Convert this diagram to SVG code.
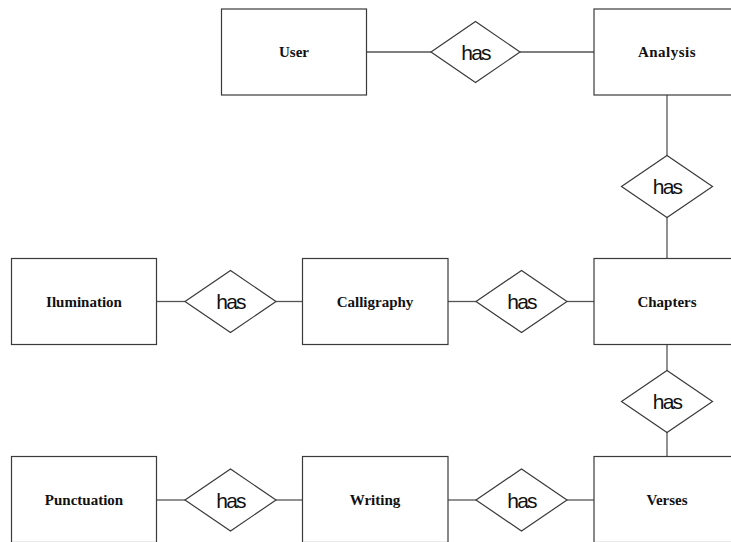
<svg xmlns="http://www.w3.org/2000/svg" width="731" height="542" viewBox="0 0 731 542">
<style>
.ent rect{fill:#fff;stroke:#3a3a3a;stroke-width:1.2}
.rel polygon{fill:#fff;stroke:#3a3a3a;stroke-width:1.2}
.lbl{font-family:"Liberation Serif",serif;font-weight:bold;font-size:15px;fill:#111;text-anchor:middle}
.has{font-family:"Liberation Sans",Arial,sans-serif;font-size:21px;fill:#111;text-anchor:middle;letter-spacing:-1.8px}
#connectors line{stroke:#555;stroke-width:1.3}
</style>
<rect width="731" height="542" fill="#fff"/>
<g id="connectors">
<line x1="367" y1="52" x2="431" y2="52"/>
<line x1="520" y1="52" x2="594" y2="52"/>
<line x1="667" y1="95" x2="667" y2="156"/>
<line x1="667" y1="217" x2="667" y2="259"/>
<line x1="157" y1="301.5" x2="185" y2="301.5"/>
<line x1="276" y1="301.5" x2="303" y2="301.5"/>
<line x1="448" y1="301.5" x2="476" y2="301.5"/>
<line x1="567" y1="301.5" x2="594" y2="301.5"/>
<line x1="667" y1="345" x2="667" y2="371"/>
<line x1="667" y1="432" x2="667" y2="457"/>
<line x1="157" y1="500" x2="185" y2="500"/>
<line x1="276" y1="500" x2="303" y2="500"/>
<line x1="448" y1="500" x2="476" y2="500"/>
<line x1="567" y1="500" x2="594" y2="500"/>
</g>
<g id="user" class="ent"><rect x="221.5" y="9" width="145" height="86"/><text class="lbl" x="294" y="57">User</text></g>
<g id="analysis" class="ent"><rect x="594" y="9" width="146" height="86"/><text class="lbl" x="667" y="57" letter-spacing="0.5">Analysis</text></g>
<g id="ilumination" class="ent"><rect x="11.5" y="258.5" width="145" height="86"/><text class="lbl" x="84" y="306.5">Ilumination</text></g>
<g id="calligraphy" class="ent"><rect x="302.5" y="258.5" width="145.5" height="86"/><text class="lbl" x="375" y="306.5">Calligraphy</text></g>
<g id="chapters" class="ent"><rect x="594" y="258.5" width="146" height="86"/><text class="lbl" x="667" y="306.5">Chapters</text></g>
<g id="punctuation" class="ent"><rect x="11.5" y="456.5" width="145" height="86"/><text class="lbl" x="84" y="505">Punctuation</text></g>
<g id="writing" class="ent"><rect x="302.5" y="456.5" width="145.5" height="86"/><text class="lbl" x="375" y="505">Writing</text></g>
<g id="verses" class="ent"><rect x="594" y="456.5" width="146" height="86"/><text class="lbl" x="667" y="505">Verses</text></g>
<g id="rel-user-analysis" class="rel"><polygon points="431,52 475.5,21.5 520,52 475.5,82.5"/><text class="has" x="475.5" y="59.5">has</text></g>
<g id="rel-analysis-chapters" class="rel"><polygon points="621.5,186.5 667,155.5 712.5,186.5 667,217.5"/><text class="has" x="667" y="194">has</text></g>
<g id="rel-ilumination-calligraphy" class="rel"><polygon points="185,301.5 230.5,270.5 276,301.5 230.5,332.5"/><text class="has" x="230.5" y="309">has</text></g>
<g id="rel-calligraphy-chapters" class="rel"><polygon points="476,301.5 521.5,270.5 567,301.5 521.5,332.5"/><text class="has" x="521.5" y="309">has</text></g>
<g id="rel-chapters-verses" class="rel"><polygon points="621.5,401.5 667,370.5 712.5,401.5 667,432.5"/><text class="has" x="667" y="409">has</text></g>
<g id="rel-punctuation-writing" class="rel"><polygon points="185,500 230.5,469 276,500 230.5,531"/><text class="has" x="230.5" y="507.5">has</text></g>
<g id="rel-writing-verses" class="rel"><polygon points="476,500 521.5,469 567,500 521.5,531"/><text class="has" x="521.5" y="507.5">has</text></g>
</svg>
